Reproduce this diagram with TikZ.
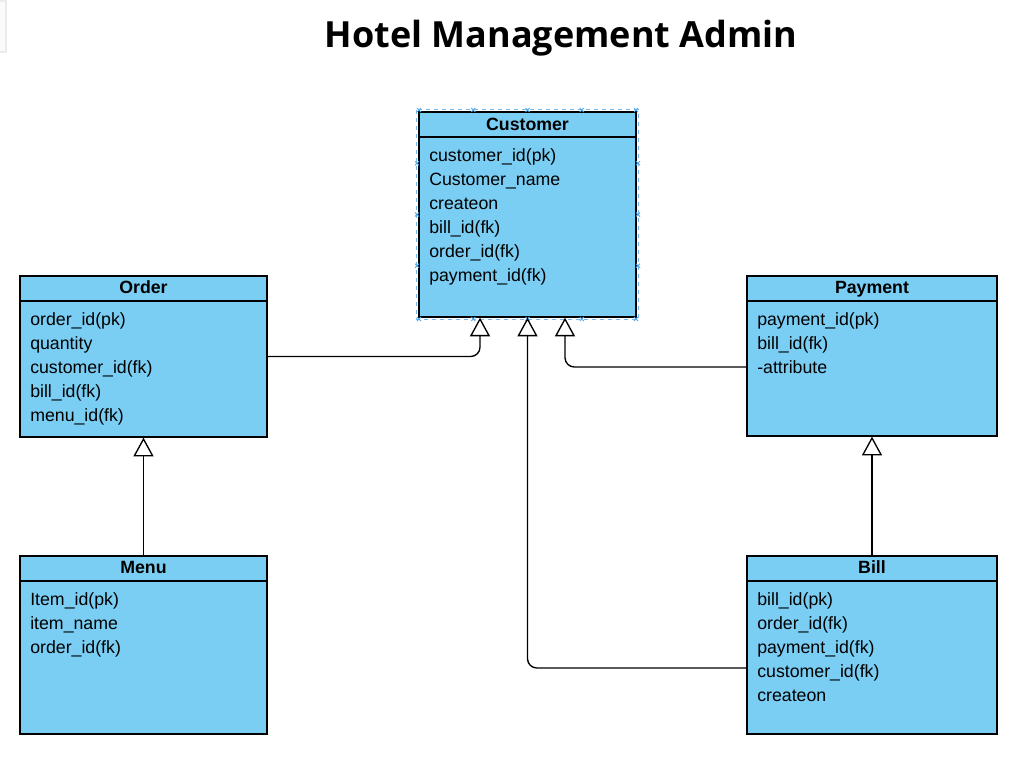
\documentclass[tikz,border=0pt]{standalone}
\usepackage{fontspec}
\setmainfont{Liberation Sans}
\newfontfamily\titlefont{Open Sans}
\usetikzlibrary{arrows.meta,calc,fit}
\definecolor{entfill}{RGB}{122,206,244}
\definecolor{selblue}{RGB}{80,170,235}
\tikzset{
  ent/.style={draw=black, fill=entfill, line width=1pt, inner sep=0pt},
  hdr/.style={font=\bfseries\fontsize{13.3}{15}\selectfont, inner sep=0pt, text height=9.6pt, text depth=2.8pt},
  fld/.style={font=\fontsize{13.3}{15}\selectfont, anchor=west, inner sep=0pt, text height=9.6pt, text depth=2.8pt},
  conn/.style={draw=black, line width=1pt, rounded corners=7,
    -{Triangle[open, length=14pt, width=15pt, fill=white]}},
  selmark/.style={draw=selblue, line width=0.6pt},
}
\begin{document}
\begin{tikzpicture}[x=0.75pt,y=-0.75pt]
\useasboundingbox (0,0) rectangle (1017,773);
\fill[white] (0,0) rectangle (1017,773);
\draw[black!8, line width=0.8pt, fill=black!2] (-2,1) rectangle (6,52);
\node[font=\titlefont\bfseries\fontsize{27}{31}\selectfont] (title) at (561,38.5) {Hotel Management Admin};

% Customer
\node[ent, fit={(419,112) (636,317)}] (customer) {};
\draw[selblue!80, dashed, line width=0.6pt] ($(customer.north west)+(-1.5,-1.5)$) rectangle ($(customer.south east)+(1.5,1.5)$);
\foreach \p in {419,473.25,527.5,581.75,636}{
  \draw[selmark] (\p-2,110-2) -- (\p+2,110+2) (\p-2,110+2) -- (\p+2,110-2);
  \draw[selmark] (\p-2,319-2) -- (\p+2,319+2) (\p-2,319+2) -- (\p+2,319-2);}
\foreach \q in {163.25,214.5,265.75}{
  \draw[selmark] (417-2,\q-2) -- (417+2,\q+2) (417-2,\q+2) -- (417+2,\q-2);
  \draw[selmark] (638-2,\q-2) -- (638+2,\q+2) (638-2,\q+2) -- (638+2,\q-2);}
\draw[line width=1pt] (419,137) -- (636,137);
\node[hdr] (customerh) at (527.5,125.5) {Customer};
\foreach \t [count=\i from 0] in {customer\_id(pk),Customer\_name,createon,bill\_id(fk),order\_id(fk),payment\_id(fk)}
  \node[fld] (customerf\i) at (429,157+24*\i) {\t};

% Order
\node[ent, fit={(20,276) (267,437)}] (order) {};
\draw[line width=1pt] (20,301) -- (267,301);
\node[hdr] (orderh) at (143.5,288.5) {Order};
\foreach \t [count=\i from 0] in {order\_id(pk),quantity,customer\_id(fk),bill\_id(fk),menu\_id(fk)}
  \node[fld] (orderf\i) at (30,321+24*\i) {\t};

% Payment
\node[ent, fit={(747,276) (997,436)}] (payment) {};
\draw[line width=1pt] (747,301) -- (997,301);
\node[hdr] (paymenth) at (872,288.5) {Payment};
\foreach \t [count=\i from 0] in {payment\_id(pk),bill\_id(fk),-attribute}
  \node[fld] (paymentf\i) at (757,321+24*\i) {\t};

% Menu
\node[ent, fit={(20,556) (267,734)}] (menu) {};
\draw[line width=1pt] (20,581) -- (267,581);
\node[hdr] (menuh) at (143.5,568.5) {Menu};
\foreach \t [count=\i from 0] in {Item\_id(pk),item\_name,order\_id(fk)}
  \node[fld] (menuf\i) at (30,601+24*\i) {\t};

% Bill
\node[ent, fit={(747,556) (997,734)}] (bill) {};
\draw[line width=1pt] (747,581) -- (997,581);
\node[hdr] (billh) at (872,568.5) {Bill};
\foreach \t [count=\i from 0] in {bill\_id(pk),order\_id(fk),payment\_id(fk),customer\_id(fk),createon}
  \node[fld] (billf\i) at (757,601+24*\i) {\t};

% connectors
\draw[conn] (order.east) -| ($(customer.south)+(-47.5,0)$);
\draw[conn] ($(bill.west)+(0,23)$) -| (customer.south);
\draw[conn] ($(payment.west)+(0,11)$) -| ($(customer.south)+(37.5,0)$);
\draw[conn] (menu.north) -- (order.south);
\draw[conn] (bill.north) -- (payment.south);
\end{tikzpicture}
\end{document}
